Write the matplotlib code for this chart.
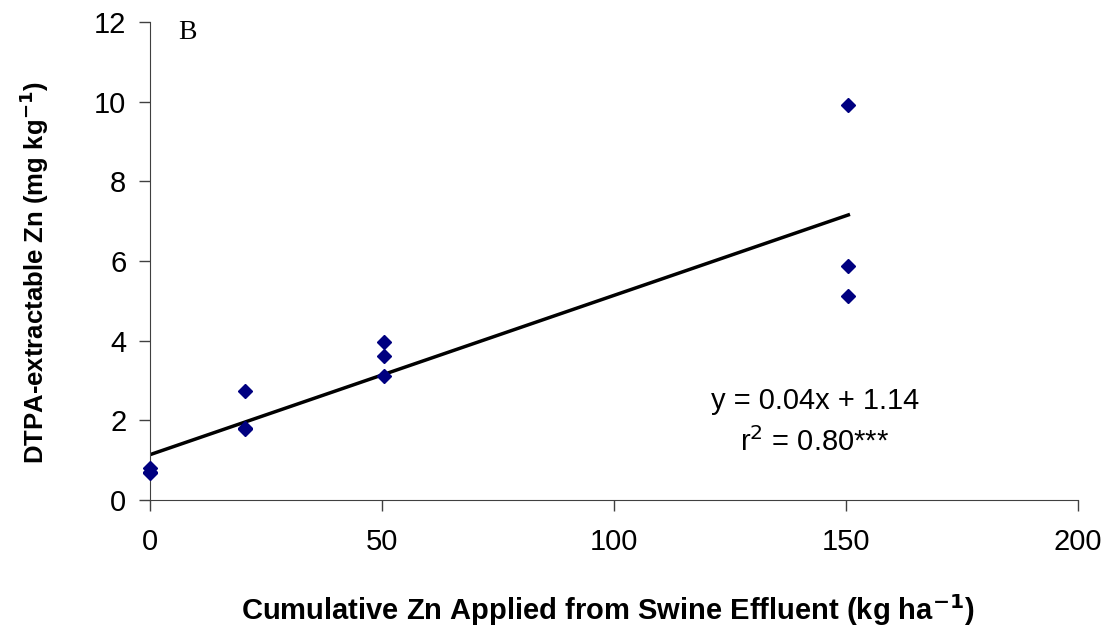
import matplotlib.pyplot as plt
import numpy as np

plt.rcParams['font.family'] = ['Liberation Sans', 'DejaVu Sans']

# datos
zn_aplicado = [0, 0, 0, 20.5, 20.5, 20.5, 50.5, 50.5, 50.5, 150.5, 150.5, 150.5]
zn_dtpa = [0.80, 0.70, 0.68, 2.74, 1.82, 1.78, 3.97, 3.62, 3.12, 9.92, 5.88, 5.12]

pendiente = 0.04
intercepto = 1.14
x_linea = np.array([0, 150.5])

fig = plt.figure(figsize=(11.16, 6.33), dpi=100)
ax = fig.add_axes([0.1344, 0.21, 0.8316, 0.755])

ax.plot(x_linea, pendiente * x_linea + intercepto, color='black', linewidth=2.5)
ax.plot(zn_aplicado, zn_dtpa, linestyle='none', marker='D', markersize=7,
        color='#000080', clip_on=False, zorder=3)

ax.set_xlim(0, 200)
ax.set_ylim(0, 12)
ax.set_xticks([0, 50, 100, 150, 200])
ax.set_yticks([0, 2, 4, 6, 8, 10, 12])
for s in ['top', 'right']:
    ax.spines[s].set_visible(False)
for s in ['left', 'bottom']:
    ax.spines[s].set_color('#404040')
ax.tick_params(direction='out', length=8, width=1, color='#404040', labelsize=21)
ax.tick_params(axis='x', pad=12)
ax.tick_params(axis='y', pad=9)

fig.text(0.545, 0.036, 'Cumulative Zn Applied from Swine Effluent (kg ha$^{\\mathbf{-1}}$)',
         fontsize=21, fontweight='bold', ha='center', va='center')
fig.text(0.031, 0.57, 'DTPA-extractable Zn (mg kg$^{\\mathbf{-1}}$)',
         fontsize=18.5, fontweight='bold', ha='center', va='center', rotation=90)

ax.text(6, 11.75, 'B', fontsize=20, family='Liberation Serif', va='center')
ax.text(143.3, 2.5, 'y = 0.04x + 1.14', fontsize=21, ha='center', va='center')
ax.text(143.3, 1.45, 'r$^2$ = 0.80***', fontsize=21, ha='center', va='center')

plt.savefig('out.png', dpi=100)
